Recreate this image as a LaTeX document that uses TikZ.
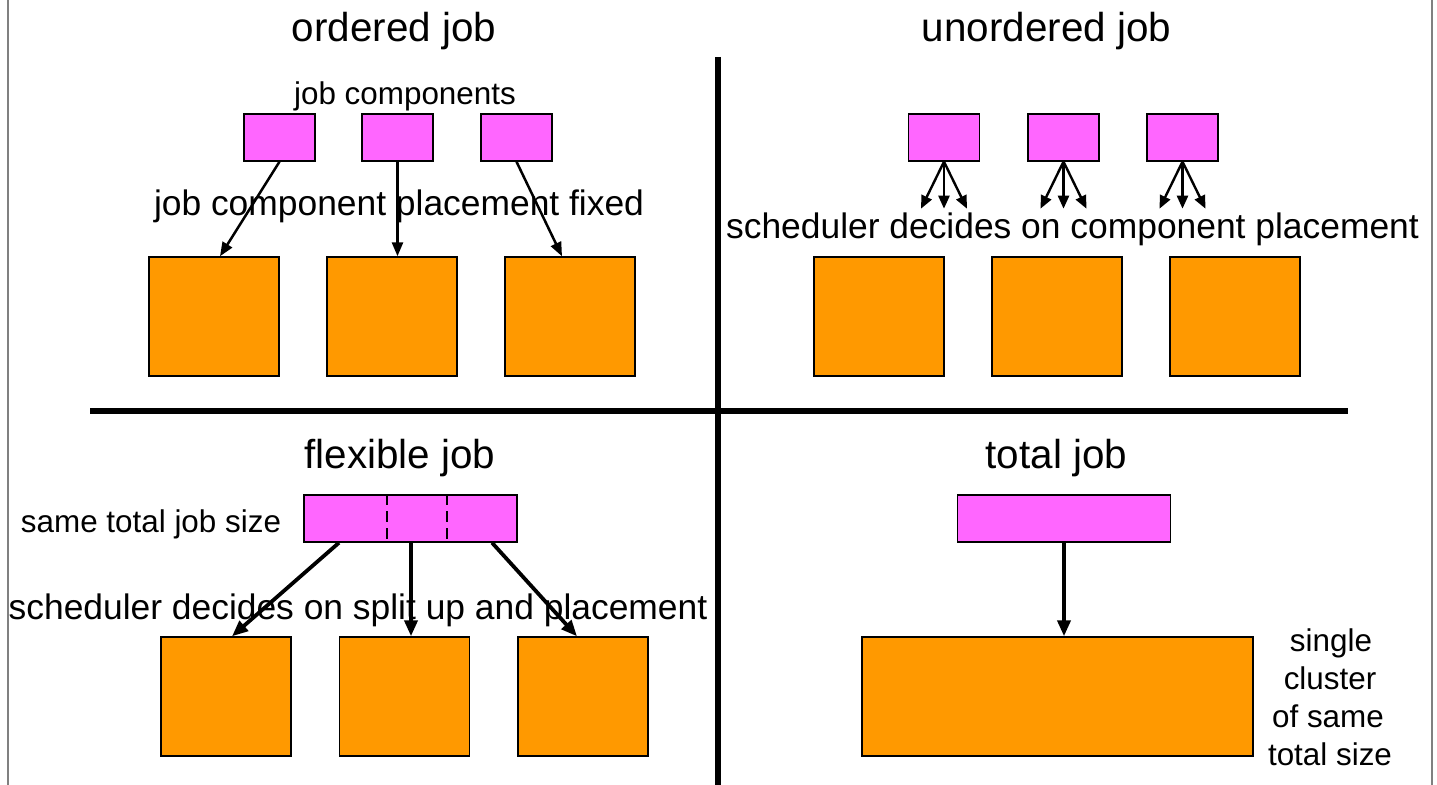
\documentclass[tikz,border=0pt]{standalone}
\usepackage{fontspec}
\setmainfont{Liberation Sans}
\usetikzlibrary{arrows.meta,calc}

\definecolor{jobpink}{HTML}{FF66FF}
\definecolor{clusterorange}{HTML}{FF9900}
\definecolor{framegray}{HTML}{808080}

\tikzset{
  jobbox/.style={draw=black, line width=0.7pt, fill=jobpink, inner sep=0pt,
    minimum width=35.5pt, minimum height=23.5pt},
  widejob/.style={jobbox, minimum width=106.5pt},
  clusterbox/.style={draw=black, line width=0.7pt, fill=clusterorange, inner sep=0pt,
    minimum width=65pt, minimum height=59.5pt},
  bigcluster/.style={clusterbox, minimum width=195.5pt},
  titletext/.style={anchor=base, inner sep=0pt, font=\fontsize{20.2}{24}\selectfont},
  bodytext/.style={anchor=base, inner sep=0pt, font=\fontsize{17.7}{21}\selectfont},
  smalltext/.style={anchor=base, inner sep=0pt, font=\fontsize{15.7}{19}\selectfont},
  place/.style={line width=1.25pt, -{Triangle[length=7pt,width=5.5pt]}},
  fan/.style={line width=1.2pt, -{Triangle[length=6.5pt,width=5.5pt]}},
  split/.style={line width=1.9pt, -{Triangle[length=8pt,width=6.5pt]}},
  divider/.style={line width=2.6pt},
  splitmark/.style={line width=1.3pt, dash pattern=on 5.5pt off 3pt}
}

\begin{document}
\begin{tikzpicture}[x=0.5pt, y=-0.5pt]
\useasboundingbox (0,0) rectangle (1437,785);

% page frame and quadrant dividers
\coordinate (frameTL) at (8,0);
\coordinate (frameBL) at (8,785);
\coordinate (frameTR) at (1432,0);
\coordinate (frameBR) at (1432,785);
\draw[framegray, line width=0.8pt] (frameTL) -- (frameBL);
\draw[framegray, line width=0.8pt] (frameTR) -- (frameBR);
\coordinate (vtop) at (718,57);
\coordinate (vbot) at (718,785);
\coordinate (hleft) at (90,411);
\coordinate (hright) at (1348,411);
\draw[divider] (vtop) -- (vbot);
\draw[divider] (hleft) -- (hright);

% ---------------- ordered job ----------------
\node[titletext] (tOrd) at (394,42) {ordered job};
\node[smalltext] (lComp) at (405,105) {job components};
\node[bodytext] (lFixed) at (399,216) {job component placement fixed};

\node[jobbox] (op1) at (279.5,137.5) {};
\node[jobbox] (op2) at (397.5,137.5) {};
\node[jobbox] (op3) at (516.5,137.5) {};
\node[clusterbox] (oc1) at (214,316.5) {};
\node[clusterbox] (oc2) at (392,316.5) {};
\node[clusterbox] (oc3) at (570,316.5) {};

\draw[place] (op1.south) -- ([xshift=3pt]oc1.north);
\draw[place] (op2.south) -- (op2.south |- oc2.north);
\draw[place] (op3.south) -- ([xshift=-4pt]oc3.north);

% ---------------- unordered job ----------------
\node[titletext] (tUnord) at (1046.5,42) {unordered job};
\node[bodytext] (lSched) at (1072.5,239) {scheduler decides on component placement};

\node[jobbox] (up1) at (944,137.5) {};
\node[jobbox] (up2) at (1063.5,137.5) {};
\node[jobbox] (up3) at (1182.5,137.5) {};
\node[clusterbox] (uc1) at (879,316.5) {};
\node[clusterbox] (uc2) at (1057,316.5) {};
\node[clusterbox] (uc3) at (1235,316.5) {};

\foreach \p in {up1,up2,up3}{
  \draw[fan] (\p.south) -- ($(\p.south)+(-23,47)$);
  \draw[fan] (\p.south) -- ($(\p.south)+(0,47)$);
  \draw[fan] (\p.south) -- ($(\p.south)+(23,47)$);
}

% ---------------- flexible job ----------------
\node[titletext] (tFlex) at (400,469) {flexible job};
\node[smalltext] (lSame) at (151,533) {same total job size};
\node[bodytext] (lSplit) at (358,620) {scheduler decides on split up and placement};

\node[widejob] (fj) at (410.5,518.5) {};
\draw[splitmark] ([xshift=-11.75pt]fj.north) -- ([xshift=-11.75pt]fj.south);
\draw[splitmark] ([xshift=18.25pt]fj.north) -- ([xshift=18.25pt]fj.south);

\node[clusterbox] (fc1) at (226,696.5) {};
\node[clusterbox] (fc2) at (404.5,696.5) {};
\node[clusterbox] (fc3) at (583,696.5) {};

\draw[split] ([xshift=-35.75pt]fj.south) -- ([xshift=3pt]fc1.north);
\draw[split] ([xshift=0.25pt]fj.south) -- ([xshift=3.25pt]fc2.north);
\draw[split] ([xshift=40.75pt]fj.south) -- ([xshift=-3pt]fc3.north);

% ---------------- total job ----------------
\node[titletext] (tTotal) at (1056.5,469) {total job};
\node[widejob] (tj) at (1064,518.5) {};
\node[bigcluster] (tc) at (1057.5,696.5) {};
\draw[split] (tj.south) -- (tj.south |- tc.north);

\node[smalltext] (s1) at (1331,652) {single};
\node[smalltext] (s2) at (1330,690) {cluster};
\node[smalltext] (s3) at (1328,728) {of same};
\node[smalltext] (s4) at (1330,766) {total size};

\end{tikzpicture}
\end{document}
